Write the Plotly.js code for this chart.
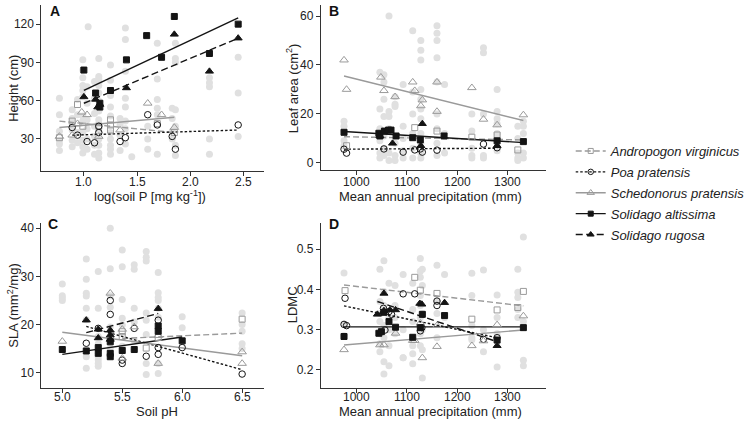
<!DOCTYPE html>
<html>
<head>
<meta charset="utf-8">
<script src="https://cdn.plot.ly/plotly-3.0.1.min.js"></script>
<style>
  body { margin: 0; background: #fff; }
  #chart { width: 750px; height: 421px; }
</style>
</head>
<body>
<div id="chart"></div>
<script>
// species, in legend order
var species = ['Andropogon virginicus', 'Poa pratensis', 'Schedonorus pratensis', 'Solidago altissima', 'Solidago rugosa'];

// ---------- Panel A : height vs log(soil P) ----------
var bgA_x = [0.77, 0.89, 0.94, 0.99, 1.03, 1.04, 1.10, 1.14, 1.25, 1.34, 1.39, 1.45, 1.60, 1.69, 1.83, 1.86, 2.18, 2.45];
var bgA_y = [[62,49,36,29,21,26],[53,46,42,37,29,24],[61,49,35,27],[92,84,78,72,68,63,48,44,35,29,24,19],[71,58,45,38,30,22],[118],
  [75,62,50,40,32,25,18],[93,79,77,74,72,66,60,55,52,45,42,36,30,25,19,15],[88,76,64,55,48,35,30,25,22,18],[46,41,33,21],
  [117,108,83,62,55,44,38,26],[16],[40,30,22],[105,77,61,54,49,18],[54,46,36,30],[105,93,90,53,40,25,17],[78,74,71,30,18],[94,66,32]];
var A_andro = [[0.77,31],[0.89,44],[0.94,57],[0.99,40],[1.14,40],[1.25,45],[1.25,41],[1.25,37],[1.69,42],[1.85,35]];
var A_poa   = [[0.89,39],[0.94,33],[1.03,28],[1.10,27],[1.14,40],[1.14,35],[1.34,28],[1.39,31],[1.60,49],[1.69,41],[1.83,32],[1.86,22],[2.45,41]];
var A_sched = [[0.77,32],[0.89,33],[0.94,42],[0.98,51],[1.03,49],[1.14,32],[1.34,37],[1.60,58],[1.73,49],[1.85,39]];
var A_alt   = [[1.0,84],[1.11,66],[1.15,58],[1.15,55],[1.25,68],[1.40,92],[1.59,111],[1.73,94],[1.85,126],[2.18,97],[2.45,120]];
var A_rug   = [[1.0,63],[1.11,61],[1.13,55],[1.15,57],[1.40,70],[1.85,112],[2.18,83],[2.45,109]];
var fitA = [[0.77,44,1.85,35],[0.89,33,2.45,37],[0.77,39,1.85,47],[1.0,68,2.45,125],[1.0,58,2.45,109]];

// ---------- Panel B : leaf area vs precipitation ----------
var bgB_x = [976, 1047, 1055, 1065, 1077, 1093, 1112, 1128, 1160, 1175, 1229, 1252, 1279, 1320, 1331];
var bgB_y = [[17,15,13,9,7],[37,22,14,9,4,2],[36,33,26,19,11,6,3],[60,21,19,14,4,1],[27,24,23,8,3,1],[32,15,10,5,2],
  [54,29,20,12,6,2],[50,46,42,30,26,22,18,12,8,4,2],[56,53,50,43,33,20,14,8,3],[32,12,4],[20,13,6,3,2],[47,45,20,3,2],
  [30,21,18,16,12,10,5],[15,10,4,2,1],[17,15,12,4,2]];
var B_andro = [[981,7],[1116,14.4],[1160,13],[1229,10.5],[1279,11.4],[1320,5.3]];
var B_poa   = [[976,5.6],[981,4],[1055,5.7],[1093,4.4],[1116,5.3],[1127,5.7],[1131,4.4],[1160,5.2],[1252,7.7],[1279,6.2]];
var B_sched = [[976,42],[981,30],[1049,35],[1055,29.5],[1077,27],[1112,33],[1116,29.5],[1128,23.3],[1131,25.7],[1160,33],[1160,21],[1229,30.7],[1252,17.8],[1279,15.5],[1331,19.6]];
var B_alt   = [[976,12.5],[1045,12.1],[1047,11],[1056,13],[1064,13.4],[1069,13.4],[1079,11],[1112,10.3],[1127,9.4],[1174,11],[1279,9],[1331,8.7]];
var B_rug   = [[1047,11],[1072,8],[1128,7],[1131,16],[1279,7]];
var fitB = [[976,10.7,1331,9.4],[976,5.6,1279,6],[976,35.5,1331,17.3],[976,12.8,1331,8.3],null];

// ---------- Panel C : SLA vs soil pH ----------
var bgC_x = [5.0, 5.2, 5.3, 5.4, 5.5, 5.6, 5.7, 5.8, 6.0, 6.5];
var bgC_y = [[28.4,26,25.5,25],[33.6,29.4,26.5,25.9,23.4,21,13.3,10.9],[31,23.4,17.5,16,15.5,14.8,14,13.3,12.6,11.9,11.3],
  [40,31.6,26,23.6,19.5,15],[35.5,32,25.2,21.3,19.9,15.5],[32.4,31.5,23.4,20.5,16.6,14.8],[35.2,34,33.2,22.4,20.9,17.9,11.9,9.6],
  [30.8,26.6,25.6,25,23.4,21.5,11.9,9.8],[21.6,19.3],[22.4,20,18.6,16,15]];
var C_andro = [[5.4,17],[5.5,17.5],[5.5,18.5],[5.7,15.1],[5.8,17.3],[6.5,21.1]];
var C_poa   = [[5.2,16.1],[5.3,19.2],[5.4,25],[5.4,22.1],[5.5,12.6],[5.5,11.9],[5.6,19.2],[5.7,13.4],[5.8,20.9],[5.8,15.2],[5.8,13.8],[6.0,15.2],[6.5,9.7]];
var C_sched = [[5.0,16.5],[5.4,26.5],[5.5,19],[5.5,13],[5.6,19.5],[5.8,17.7],[5.8,11.9],[6.5,14.3],[6.5,11.9]];
var C_alt   = [[5.0,14.8],[5.2,14.5],[5.3,15.2],[5.3,14],[5.4,16.4],[5.4,14],[5.4,13.3],[5.5,14.6],[5.6,14.8],[5.8,19.7],[5.8,18.6],[6.0,16.6]];
var C_rug   = [[5.2,20.9],[5.3,17.2],[5.3,19],[5.4,18.8],[5.4,17.8],[5.4,16.9],[5.8,23.3]];
var fitC = [[5.5,17.1,6.5,18.2],[5.2,19.6,6.5,10.6],[5.0,18.4,6.5,13.5],[5.0,13.8,6.0,17.4],[5.2,18.3,5.8,22.3]];

// ---------- Panel D : LDMC vs precipitation ----------
var bgD_x = [976, 1047, 1055, 1065, 1077, 1093, 1112, 1127, 1131, 1160, 1175, 1229, 1252, 1279, 1320, 1331];
var bgD_y = [[0.441,0.314,0.285],[0.45,0.37,0.34,0.32,0.29,0.265,0.245],[0.471,0.395,0.36,0.31,0.28,0.22,0.19],[0.415,0.33,0.3,0.26,0.21],
  [0.41,0.36,0.33,0.29],[0.437,0.3,0.23,0.23],[0.415,0.35,0.32,0.28,0.26,0.24,0.215],[0.477,0.445,0.43,0.385,0.36,0.33,0.29,0.26],
  [0.45,0.41,0.34,0.3,0.25,0.18],[0.46,0.37,0.34,0.28],[0.437,0.33],[0.44,0.385,0.31,0.28,0.275],[0.448,0.3,0.245],
  [0.386,0.33,0.29,0.207],[0.45,0.393,0.38,0.35,0.33],[0.53,0.32,0.224,0.21]];
var D_andro = [[978,0.397],[1116,0.43],[1127,0.398],[1160,0.39],[1229,0.326],[1279,0.349],[1320,0.355],[1331,0.395]];
var D_poa   = [[976,0.313],[978,0.378],[981,0.31],[1054,0.353],[1057,0.299],[1065,0.345],[1070,0.338],[1093,0.389],[1116,0.389],[1127,0.297],[1130,0.305],[1160,0.371],[1160,0.36],[1252,0.276],[1279,0.28]];
var D_sched = [[976,0.25],[1047,0.262],[1055,0.262],[1078,0.291],[1112,0.273],[1116,0.273],[1127,0.316],[1131,0.23],[1160,0.31],[1160,0.258],[1229,0.26],[1252,0.272],[1279,0.312],[1331,0.334]];
var D_alt   = [[976,0.283],[1045,0.291],[1050,0.295],[1055,0.343],[1065,0.32],[1078,0.306],[1112,0.281],[1127,0.305],[1131,0.338],[1175,0.335],[1279,0.274],[1331,0.305]];
var D_rug   = [[1042,0.338],[1055,0.39],[1055,0.347],[1067,0.349],[1078,0.349],[1126,0.365],[1130,0.363],[1175,0.367],[1279,0.26]];
var fitD = [[976,0.411,1331,0.359],[976,0.359,1279,0.28],[976,0.262,1331,0.299],[976,0.307,1331,0.307],[1042,0.37,1279,0.27]];

// tick values and axis titles
var ticksA_x = [1.0, 1.5, 2.0, 2.5], ticksA_y = [30, 60, 90, 120];
var ticksB_x = [1000, 1100, 1200, 1300], ticksB_y = [0, 20, 40, 60];
var ticksC_x = [5.0, 5.5, 6.0, 6.5], ticksC_y = [10, 20, 30, 40];
var ticksD_x = [1000, 1100, 1200, 1300], ticksD_y = [0.2, 0.3, 0.4, 0.5];
var xTitles = ['log(soil P [mg kg<sup>-1</sup>])', 'Mean annual precipitation (mm)', 'Soil pH', 'Mean annual precipitation (mm)'];
var yTitles = ['Height (cm)', 'Leaf area (cm<sup>2</sup>)', 'SLA (mm<sup>2</sup>/mg)', 'LDMC'];
var panelTags = ['A', 'B', 'C', 'D'];

// look of each species
var grey = '#9a9a9a', black = '#141414';
var sym   = ['square-open', 'circle-open', 'triangle-up-open', 'square', 'triangle-up'];
var col   = [grey, black, grey, black, black];
var msize = [6, 6.5, 7.5, 6, 7];
var dash  = ['6px,3px', '2.5px,2px', 'solid', 'solid', '7px,3.5px'];
var FONT = 'Liberation Sans, Arial, sans-serif';

var traces = [];

function addPanel(n, bgx, bgy, obs, fits) {
  var xa = n == 1 ? 'x' : 'x' + n, ya = n == 1 ? 'y' : 'y' + n;
  // grey background points
  var gx = [], gy = [];
  bgx.forEach(function(x, i) { bgy[i].forEach(function(v) { gx.push(x); gy.push(v); }); });
  traces.push({x: gx, y: gy, xaxis: xa, yaxis: ya, mode: 'markers', type: 'scatter', showlegend: false,
    marker: {color: '#e0e0e0', size: 7}, hoverinfo: 'skip'});
  // regression lines
  fits.forEach(function(f, s) {
    if (!f) return;
    traces.push({x: [f[0], f[2]], y: [f[1], f[3]], xaxis: xa, yaxis: ya, mode: 'lines', type: 'scatter',
      showlegend: false, line: {color: col[s], width: 1.4, dash: dash[s]}});
  });
  // species points
  obs.forEach(function(pts, s) {
    traces.push({x: pts.map(function(p) { return p[0]; }), y: pts.map(function(p) { return p[1]; }),
      xaxis: xa, yaxis: ya, mode: 'markers', type: 'scatter', showlegend: false,
      marker: {symbol: sym[s], size: msize[s], color: col[s], line: {color: col[s], width: 1}}});
  });
}

addPanel(1, bgA_x, bgA_y, [A_andro, A_poa, A_sched, A_alt, A_rug], fitA);
addPanel(2, bgB_x, bgB_y, [B_andro, B_poa, B_sched, B_alt, B_rug], fitB);
addPanel(3, bgC_x, bgC_y, [C_andro, C_poa, C_sched, C_alt, C_rug], fitC);
addPanel(4, bgD_x, bgD_y, [D_andro, D_poa, D_sched, D_alt, D_rug], fitD);

// legend entries only
species.forEach(function(name, s) {
  traces.push({x: [null], y: [null], mode: 'lines+markers', type: 'scatter', name: name, showlegend: true,
    legendgroup: 'g' + s,
    line: {color: col[s], width: 1.4, dash: dash[s]},
    marker: {symbol: sym[s], size: msize[s] - 1, color: col[s], line: {color: col[s], width: 1}}});
});

// panel boxes in page pixels: [left, right, top, bottom]
var boxes = [[42, 268, 5, 171], [326, 555, 5, 170], [42, 268, 223, 388], [326, 555, 223, 388]];

function axis(b, range, ticks, fmt, anchor, vertical) {
  var d = vertical ? [(421 - b[3]) / 421, (421 - b[2]) / 421] : [b[0] / 750, b[1] / 750];
  return {
    domain: d, range: range, anchor: anchor, tickvals: ticks, tickformat: fmt,
    showline: true, linecolor: '#333', linewidth: 1, ticks: 'outside', ticklen: 4, tickcolor: '#333',
    showgrid: false, zeroline: false, showticklabels: !!vertical,
    tickfont: {family: FONT, size: 12, color: '#222'}
  };
}

var notes = [];
// x tick labels sit tight under the ticks, so they are set as annotations on each x axis
[[ticksA_x, 'x', 182, 1], [ticksB_x, 'x2', 182, 0], [ticksC_x, 'x3', 397, 1], [ticksD_x, 'x4', 397, 0]].forEach(function(t) {
  t[0].forEach(function(v) {
    notes.push({text: v.toFixed(t[3]), xref: t[1], yref: 'paper', x: v, y: (421 - t[2]) / 421,
      xanchor: 'center', yanchor: 'middle', showarrow: false, font: {family: FONT, size: 12, color: '#222'}});
  });
});

// axis titles and panel letters, placed in page pixels
var xTitlePos = [[152, 196], [438, 196], [160, 411], [438, 411]];
var yTitlePos = [[13, 88], [297, 88], [13, 305], [297, 305]];
var tagPos = [[49, 1], [332, 1], [47, 214], [332, 214]];
for (var i = 0; i < 4; i++) {
  notes.push({text: xTitles[i], xref: 'paper', yref: 'paper', x: xTitlePos[i][0] / 750, y: (421 - xTitlePos[i][1]) / 421,
    xanchor: 'center', yanchor: 'middle', showarrow: false, font: {family: FONT, size: 13, color: '#222'}});
  notes.push({text: yTitles[i], xref: 'paper', yref: 'paper', x: yTitlePos[i][0] / 750, y: (421 - yTitlePos[i][1]) / 421,
    xanchor: 'center', yanchor: 'middle', textangle: -90, showarrow: false, font: {family: FONT, size: 13, color: '#222'}});
  notes.push({text: '<b>' + panelTags[i] + '</b>', xref: 'paper', yref: 'paper', x: tagPos[i][0] / 750, y: (421 - tagPos[i][1]) / 421,
    xanchor: 'left', yanchor: 'top', showarrow: false, font: {family: FONT, size: 14, color: '#111'}});
}

var layout = {
  width: 750, height: 421,
  margin: {l: 0, r: 0, t: 0, b: 0},
  paper_bgcolor: '#fff', plot_bgcolor: '#fff',
  showlegend: true,
  legend: {x: 580 / 750, xanchor: 'left', y: (421 - 193) / 421, yanchor: 'middle', tracegroupgap: 1,
    font: {family: FONT, size: 13, color: '#222', style: 'italic'}, bgcolor: 'rgba(0,0,0,0)', itemwidth: 30},
  xaxis:  axis(boxes[0], [0.60, 2.69], ticksA_x, '.1f', 'y'),
  yaxis:  axis(boxes[0], [4.9, 135], ticksA_y, '', 'x', true),
  xaxis2: axis(boxes[1], [930, 1376], ticksB_x, '', 'y2'),
  yaxis2: axis(boxes[1], [-2.9, 64.5], ticksB_y, '', 'x2', true),
  xaxis3: axis(boxes[2], [4.825, 6.68], ticksC_x, '.1f', 'y3'),
  yaxis3: axis(boxes[2], [6.8, 41.1], ticksC_y, '', 'x3', true),
  xaxis4: axis(boxes[3], [930, 1376], ticksD_x, '', 'y4'),
  yaxis4: axis(boxes[3], [0.155, 0.565], ticksD_y, '.1f', 'x4', true),
  annotations: notes
};

Plotly.newPlot('chart', traces, layout, {displayModeBar: false, staticPlot: true});
</script>
</body>
</html>
